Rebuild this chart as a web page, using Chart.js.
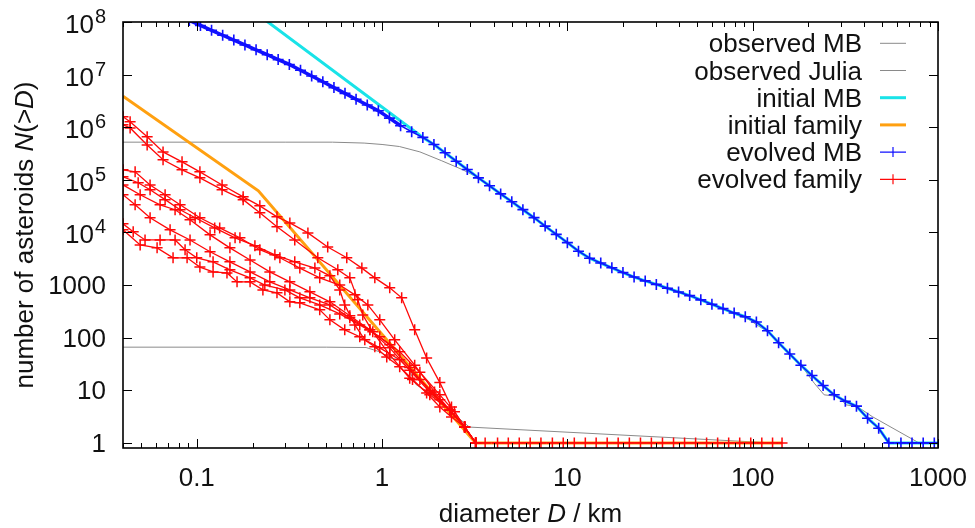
<!DOCTYPE html>
<html>
<head>
<meta charset="utf-8">
<script src="https://cdn.jsdelivr.net/npm/chart.js@4"></script>
<style>
  html, body { margin: 0; padding: 0; background: #fff; }
  canvas { display: block; }
</style>
</head>
<body>
<canvas id="sfdChart" width="975" height="528"></canvas>
<script>
// axis ticks
const xMajorTicks = [0.1, 1, 10, 100, 1000];
const yTickValues = [1, 10, 100, 1000, 1e4, 1e5, 1e6, 1e7, 1e8];
const yTickLabels = ['1', '10', '100', '1000', '10^4', '10^5', '10^6', '10^7', '10^8'];
const xTickLabels = ['0.1', '1', '10', '100', '1000'];

// cumulative distributions N(>D), pairs of [D km, N]
const observedMB = [[0.04,5.2e5],[0.3,5.2e5],[0.54,5.2e5],[0.8,5.0e5],[1.0,4.7e5],[1.24,4.3e5],[1.6,3.4e5],[2.1,2.3e5],
  [2.73,1.55e5],[3.31,1.09e5],[3.8,7.7e4],[5.0,3.84e4],[6.6,1.91e4],[10,6.4e3],[13.2,3.24e3],[20,1.73e3],[30,1.03e3],
  [45.7,630],[60,432],[79,285],[96,218],[108,165],[125,120],[145,68],[185,28],[215,13.6],[243,8.2],[292,7.6],[318,5.3],
  [367,4.9],[442,3.16],[789,1],[1000,1]];

const observedJulia = [[0.04,66],[0.5,66],[0.82,65],[0.97,54],[1.10,41],[1.27,38],[1.41,28],[1.44,19.6],[1.53,12.7],
  [1.81,8.8],[2.22,4.9],[2.52,3.2],[2.96,2],[127,1]];

const initialMB = [[0.2,1.65e8],[1.66,6.4e5],[1.905,4.7e5],[2.188,3.27e5],[2.512,2.26e5],[2.884,1.57e5],[3.311,1.09e5],
  [3.802,7.7e4],[4.365,5.4e4],[5.012,3.84e4],[5.754,2.71e4],[6.607,1.91e4],[7.586,1.32e4],[8.71,9.2e3],[10,6.4e3],
  [11.48,4.4e3],[13.18,3.24e3],[15.14,2.62e3],[17.38,2.13e3],[19.95,1.73e3],[22.91,1.42e3],[26.3,1.2e3],[30.2,1.03e3],
  [34.67,871],[39.81,740],[45.71,630],[52.48,523],[60.26,432],[69.18,356],[79.43,294],[91.2,250],[104.7,199],[120.2,135],
  [138,80],[158.5,49],[182,30],[208.9,19.1],[239.9,12.3],[275.4,8.2],[316.2,6.2],[363.1,5.0],[416.9,2.95],[478.6,1.9],
  [543,1],[1000,1]];

const initialFamily = [[0.04,3.9e6],[0.215,6.2e4],[3.2,1],[144,1]];

const evolvedMB = [[0.0912,1.07e8],[0.1047,8.6e7],[0.1202,6.95e7],[0.138,5.6e7],[0.1585,4.54e7],[0.182,3.66e7],
  [0.209,2.96e7],[0.24,2.39e7],[0.275,1.93e7],[0.316,1.56e7],[0.363,1.21e7],[0.417,9.4e6],[0.479,7.3e6],[0.55,5.66e6],
  [0.631,4.4e6],[0.724,3.41e6],[0.832,2.65e6],[0.955,2.06e6],[1.096,1.49e6],[1.259,1.07e6],[1.445,8.2e5],[1.66,6.4e5],
  [1.905,4.7e5],[2.188,3.27e5],[2.512,2.26e5],[2.884,1.57e5],[3.311,1.09e5],[3.802,7.7e4],[4.365,5.4e4],[5.012,3.84e4],
  [5.754,2.71e4],[6.607,1.91e4],[7.586,1.32e4],[8.71,9.2e3],[10,6.4e3],[11.48,4.4e3],[13.18,3.24e3],[15.14,2.62e3],
  [17.38,2.13e3],[19.95,1.73e3],[22.91,1.42e3],[26.3,1.2e3],[30.2,1.03e3],[34.67,871],[39.81,740],[45.71,630],
  [52.48,523],[60.26,432],[69.18,356],[79.43,294],[91.2,250],[104.7,199],[120.2,135],[138,80],[158.5,49],[182,30],
  [208.9,19.1],[239.9,12.3],[275.4,8.2],[316.2,6.2],[363.1,5.0],[416.9,2.95],[478.6,1.9],[543,1],[631,1],[724,1],
  [832,1],[955,1]];

// evolved family, several runs
const familyLargest = [[3.2,1],[3.6,1],[4.2,1],[4.8,1],[5.5,1],[6.3,1],[7.2,1],[8.3,1],[9.5,1],[10.9,1],[12.5,1],[14.3,1],
  [16.4,1],[18.8,1],[21.6,1],[24.8,1],[28.4,1],[32.6,1],[37.4,1],[42.9,1],[49.2,1],[56.4,1],[64.7,1],[74.2,1],[85.1,1],
  [97.6,1],[112,1],[128,1],[144,1]];
const famRunA = [[0.04,1.58e6],[0.0437,1.27e6],[0.054,6.6e5],[0.0658,3.4e5],[0.0833,2.2e5],[0.104,1.42e5],[0.137,8.0e4],
  [0.178,4.75e4],[0.219,3.2e4],[0.271,1.98e4],[0.318,1.52e4],[0.398,9.8e3],[0.509,5.3e3],[0.645,3.3e3],[0.778,2.1e3],
  [0.914,1.37e3],[1.10,885],[1.276,571],[1.50,141],[1.74,41],[2.05,14],[2.37,4.8],[2.79,2]];
const famRunB = [[0.04,1.11e6],[0.0437,9.7e5],[0.054,4.6e5],[0.0658,2.4e5],[0.0833,1.55e5],[0.104,1.09e5],[0.137,6.5e4],
  [0.178,4.2e4],[0.219,2.36e4],[0.271,1.28e4],[0.338,7.2e3],[0.45,3.3e3],[0.577,1.95e3],[0.67,1.37e3],[0.74,523],
  [0.787,271],[0.891,129],[1.10,47],[1.41,17],[1.81,8.2],[2.32,4.2],[2.79,2],[3.2,1]];
const famRunC = [[0.04,1.12e4],[0.0495,5.8e3],[0.0611,5.1e3],[0.0745,3.3e3],[0.0887,3.3e3],[0.104,2.2e3],[0.1225,1.78e3],
  [0.1456,1.7e3],[0.165,1.15e3],[0.194,1.15e3],[0.2275,810],[0.271,711],[0.318,480],[0.36,459],[0.461,338],[0.523,218],
  [0.629,141],[0.758,104],[0.914,67],[1.06,43],[1.245,28],[1.46,16],[1.74,8.9],[2.05,4.8],[2.37,3.1],[2.79,2],[3.2,1]];
const famRunD = [[0.04,1.46e4],[0.0454,1.03e4],[0.0526,7.2e3],[0.0634,7.2e3],[0.0764,7.2e3],[0.0865,4.7e3],[0.1,3.3e3],
  [0.1225,2.76e3],[0.151,1.95e3],[0.194,1.37e3],[0.233,1.0e3],[0.299,810],[0.36,571],[0.461,420],[0.591,283],[0.758,175],
  [0.972,104],[1.245,54],[1.6,22],[2.05,8.2],[2.46,3.9],[2.79,2],[3.2,1]];
const famRunE = [[0.04,5.2e4],[0.0465,3.35e4],[0.056,1.9e4],[0.0718,1.12e4],[0.092,7.2e3],[0.118,4.3e3],[0.151,2.76e3],
  [0.194,1.78e3],[0.248,1.15e3],[0.318,810],[0.408,571],[0.523,420],[0.67,238],[0.859,141],[1.10,73],[1.41,27],[1.81,10],
  [2.32,4.2],[2.79,2],[3.2,1]];
const famRunF = [[0.04,1.55e5],[0.0465,1.42e5],[0.056,8.0e4],[0.0675,5.2e4],[0.0813,3.35e4],[0.104,1.9e4],[0.133,1.22e4],
  [0.171,7.9e3],[0.219,4.7e3],[0.281,3.3e3],[0.36,2.1e3],[0.461,1.37e3],[0.591,1.0e3],[0.713,651],[0.838,420],[0.972,218],
  [1.17,91],[1.5,30],[1.92,9.3],[2.32,4.2],[2.79,2],[3.2,1]];
const famRunG = [[0.04,1.14e5],[0.0483,8.8e4],[0.056,6.5e4],[0.0675,4.2e4],[0.0813,2.7e4],[0.098,1.9e4],[0.125,1.22e4],
  [0.161,7.9e3],[0.206,5.6e3],[0.264,3.75e3],[0.338,2.76e3],[0.434,2.1e3],[0.523,1.5e3],[0.591,810],[0.629,420],
  [0.713,175],[0.807,91],[0.972,64],[1.245,38],[1.6,16],[2.05,6.6],[2.79,2],[3.2,1]];
const famRunH = [[0.04,8.0e4],[0.0495,5.2e4],[0.0634,3.35e4],[0.0764,2.7e4],[0.092,1.74e4],[0.118,9.0e3],[0.151,5.1e3],
  [0.194,3.0e3],[0.248,1.78e3],[0.318,1.15e3],[0.408,743],[0.523,480],[0.67,260],[0.859,141],[1.10,64],[1.41,24],
  [1.81,9.3],[2.32,4.2],[2.79,2],[3.2,1]];
const evolvedFamilyRuns = [famRunA.concat(familyLargest), famRunB, famRunC, famRunD, famRunE, famRunF, famRunG, famRunH];

const FONT = '"Liberation Sans", Arial, sans-serif';
const GREY = '#8a8a8a', CYAN = '#19e3e8', ORANGE = '#ffa010', BLUE = '#1010ff', RED = '#ff0808';

function toXY(arr) { return arr.map(p => ({ x: p[0], y: p[1] })); }

const datasets = [
  { label: 'observed MB', data: toXY(observedMB), borderColor: GREY, borderWidth: 1, pointRadius: 0, order: 6 },
  { label: 'observed Julia', data: toXY(observedJulia), borderColor: GREY, borderWidth: 1, pointRadius: 0, order: 5 },
  { label: 'initial MB', data: toXY(initialMB), borderColor: CYAN, borderWidth: 3, pointRadius: 0, order: 4 },
  { label: 'initial family', data: toXY(initialFamily), borderColor: ORANGE, borderWidth: 3, pointRadius: 0, order: 3 },
  { label: 'evolved MB', data: toXY(evolvedMB), borderColor: BLUE, borderWidth: 1.5, pointStyle: 'cross',
    pointRadius: 5.5, pointBorderColor: BLUE, pointBorderWidth: 1.6, order: 2,
    // small sizes look like a thick bundle of overlapping runs
    segment: { borderWidth: c => (c.p0.parsed.x < 1.2 ? 3.5 : 1.5) } }
];
evolvedFamilyRuns.forEach(run => {
  datasets.push({ label: 'evolved family', data: toXY(run), borderColor: RED, borderWidth: 1.3, pointStyle: 'cross',
    pointRadius: 5.5, pointBorderColor: RED, pointBorderWidth: 1.5, order: 1 });
});

// gnuplot-like frame, inward ticks, labels and key
const gnuplotDecor = {
  id: 'gnuplotDecor',
  afterDatasetsDraw(chart) {
    const ctx = chart.ctx, a = chart.chartArea, x = chart.scales.x, y = chart.scales.y;
    ctx.save();
    ctx.strokeStyle = '#000';
    ctx.lineWidth = 1;
    ctx.beginPath();
    xMajorTicks.forEach(v => {
      const px = Math.round(x.getPixelForValue(v)) + 0.5;
      ctx.moveTo(px, a.bottom); ctx.lineTo(px, a.bottom - 9);
      ctx.moveTo(px, a.top); ctx.lineTo(px, a.top + 9);
    });
    [0.01, 0.1, 1, 10, 100].forEach(base => {
      for (let m = 2; m <= 9; m++) {
        const v = base * m;
        if (v < x.min || v > x.max) continue;
        const px = Math.round(x.getPixelForValue(v)) + 0.5;
        ctx.moveTo(px, a.bottom); ctx.lineTo(px, a.bottom - 5);
        ctx.moveTo(px, a.top); ctx.lineTo(px, a.top + 5);
      }
    });
    yTickValues.forEach(v => {
      const py = Math.round(y.getPixelForValue(v)) + 0.5;
      ctx.moveTo(a.left, py); ctx.lineTo(a.left + 9, py);
      ctx.moveTo(a.right, py); ctx.lineTo(a.right - 9, py);
    });
    ctx.stroke();
    ctx.lineWidth = 1.6;
    ctx.strokeRect(a.left, a.top, a.right - a.left, a.bottom - a.top);
    ctx.restore();
  },
  afterDraw(chart) {
    const ctx = chart.ctx, a = chart.chartArea, x = chart.scales.x, y = chart.scales.y;
    ctx.save();
    ctx.fillStyle = '#111';
    ctx.textBaseline = 'alphabetic';

    // y tick labels
    yTickValues.forEach((v, i) => {
      const py = y.getPixelForValue(v);
      const parts = yTickLabels[i].split('^');
      if (parts.length === 1) {
        ctx.font = '26px ' + FONT;
        ctx.textAlign = 'right';
        ctx.fillText(parts[0], 106, py + 9);
      } else {
        ctx.font = '20px ' + FONT;
        ctx.textAlign = 'right';
        const ew = ctx.measureText(parts[1]).width;
        ctx.fillText(parts[1], 106, py + 1);
        ctx.font = '26px ' + FONT;
        ctx.fillText(parts[0], 106 - ew - 1, py + 11);
      }
    });

    // x tick labels
    ctx.font = '26px ' + FONT;
    ctx.textAlign = 'center';
    xMajorTicks.forEach((v, i) => {
      ctx.fillText(xTickLabels[i], x.getPixelForValue(v), 486);
    });

    // mixed upright/italic text, centred on cx
    function mixedText(parts, cx, base) {
      let w = 0;
      parts.forEach(p => { ctx.font = (p[1] ? 'italic ' : '') + '26px ' + FONT; w += ctx.measureText(p[0]).width; });
      let cur = cx - w / 2;
      ctx.textAlign = 'left';
      parts.forEach(p => {
        ctx.font = (p[1] ? 'italic ' : '') + '26px ' + FONT;
        ctx.fillText(p[0], cur, base);
        cur += ctx.measureText(p[0]).width;
      });
    }
    mixedText([['diameter ', false], ['D', true], [' / km', false]], (a.left + a.right) / 2, 522);

    ctx.save();
    ctx.translate(33, (a.top + a.bottom) / 2);
    ctx.rotate(-Math.PI / 2);
    mixedText([['number of asteroids ', false], ['N', true], ['(>', false], ['D', true], [')', false]], 0, 0);
    ctx.restore();

    // key
    const seen = {};
    let row = 0;
    chart.data.datasets.forEach(ds => {
      if (seen[ds.label]) return;
      seen[ds.label] = true;
      const ky = 43.3 + row * 27.2;
      ctx.font = '26px ' + FONT;
      ctx.textAlign = 'right';
      ctx.fillStyle = '#111';
      ctx.fillText(ds.label, 862, ky + 9);
      ctx.strokeStyle = ds.borderColor;
      ctx.lineWidth = ds.pointRadius > 0 ? 1.2 : ds.borderWidth;
      ctx.beginPath();
      ctx.moveTo(880, ky); ctx.lineTo(906, ky);
      if (ds.pointRadius > 0) {
        ctx.moveTo(893, ky - 5); ctx.lineTo(893, ky + 5);
        ctx.moveTo(888, ky); ctx.lineTo(898, ky);
      }
      ctx.stroke();
      row++;
    });
    ctx.restore();
  }
};

const chart = new Chart(document.getElementById('sfdChart').getContext('2d'), {
  type: 'scatter',
  data: { datasets: datasets },
  options: {
    responsive: false,
    animation: false,
    showLine: true,
    elements: { line: { tension: 0, fill: false } },
    layout: { padding: { top: 22, right: 37, left: 0, bottom: 0 } },
    plugins: { legend: { display: false }, tooltip: { enabled: false } },
    scales: {
      x: {
        type: 'logarithmic', min: 0.04, max: 1000,
        grid: { display: false }, border: { display: false },
        ticks: { display: false },
        afterBuildTicks: s => { s.ticks = xMajorTicks.map(v => ({ value: v })); },
        afterFit: s => { s.height = 80; }
      },
      y: {
        type: 'logarithmic', min: 0.8, max: 1e8,
        grid: { display: false }, border: { display: false },
        ticks: { display: false },
        afterBuildTicks: s => { s.ticks = yTickValues.map(v => ({ value: v })); },
        afterFit: s => { s.width = 123; }
      }
    }
  },
  plugins: [gnuplotDecor]
});
</script>
</body>
</html>
